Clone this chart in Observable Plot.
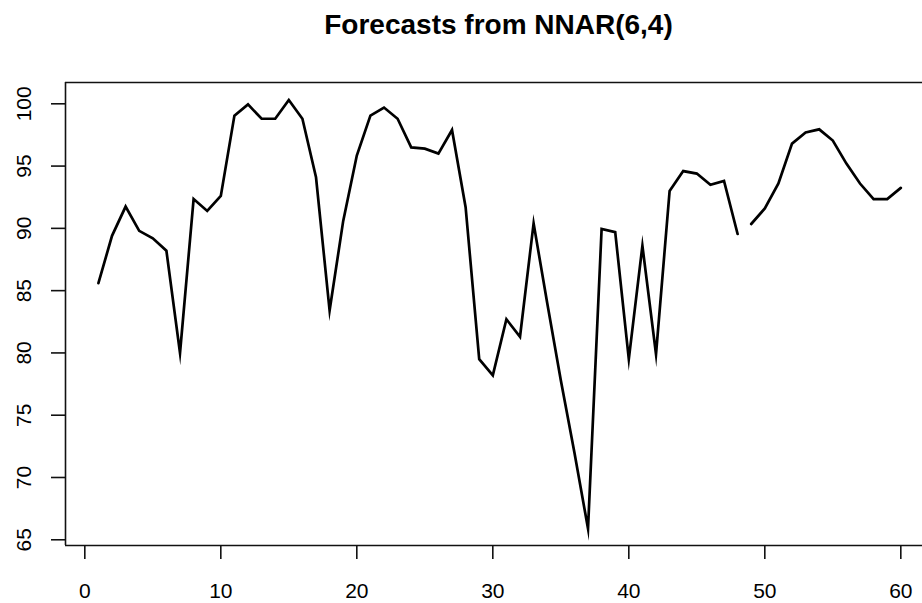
<!DOCTYPE html>
<html>
<head>
<meta charset="utf-8">
<script src="https://cdn.jsdelivr.net/npm/d3@7"></script>
<script src="https://cdn.jsdelivr.net/npm/@observablehq/plot@0.6"></script>
<style>
  html, body { margin: 0; padding: 0; background: #fff; }
  #wrap { width: 922px; height: 603px; overflow: hidden; position: relative; }
  #title { box-sizing: border-box; height: 44px; padding-top: 11px; padding-left: 75px; text-align: center;
           white-space: nowrap; font: bold 28px/28px "Liberation Sans", Arial, sans-serif; color: #000; }
</style>
</head>
<body>
<div id="wrap">
  <div id="title"></div>
  <div id="chart"></div>
</div>
<script>
const titleText = "Forecasts from NNAR(6,4)";
const observedTime = d3.range(1, 49);
const observedValues = [85.6, 89.4, 91.75, 89.8, 89.2, 88.2, 80.0, 92.35, 91.4, 92.6,
  99.05, 99.95, 98.8, 98.8, 100.3, 98.8, 94.1, 83.4, 90.6, 95.85,
  99.05, 99.7, 98.8, 96.5, 96.4, 96.0, 97.9, 91.7, 79.5, 78.2,
  82.7, 81.3, 90.4, 84.0, 77.8, 72.0, 65.9, 89.95, 89.7, 79.5,
  88.6, 79.9, 93.0, 94.6, 94.4, 93.5, 93.8, 89.55];
const forecastTime = d3.range(49, 61);
const forecastValues = [90.35, 91.6, 93.6, 96.8, 97.7, 97.95, 97.05, 95.2, 93.6, 92.35, 92.35, 93.25];
const xTicks = [0, 10, 20, 30, 40, 50, 60];
const yTicks = [65, 70, 75, 80, 85, 90, 95, 100];

document.getElementById("title").textContent = titleText;

const observed = observedTime.map((t, i) => ({t, v: observedValues[i]}));
const forecast = forecastTime.map((t, i) => ({t, v: forecastValues[i]}));

const xDomain = [-1.42, 62.33];
const yDomain = [64.54, 101.71];
const font = "Liberation Sans, Arial, sans-serif";

const chart = Plot.plot({
  width: 922,
  height: 559,
  marginTop: 38,
  marginBottom: 58,
  marginLeft: 65,
  marginRight: 0,
  style: {fontFamily: font, fontSize: "21px", color: "#000", background: "#fff", overflow: "visible"},
  x: {domain: xDomain, range: [65, 932]},
  y: {domain: yDomain},
  marks: [
    Plot.ruleY([yDomain[0], yDomain[1]], {x1: xDomain[0], x2: xDomain[1], stroke: "#111", strokeWidth: 1.6}),
    Plot.ruleX([xDomain[0]], {y1: yDomain[0], y2: yDomain[1], stroke: "#111", strokeWidth: 1.6}),
    Plot.ruleX([xDomain[1]], {y1: yDomain[0], y2: yDomain[1], stroke: "#111", strokeWidth: 1.6}),
    Plot.axisX({ticks: xTicks, tickSize: 14, tickPadding: 24, tickFormat: d => String(d),
      stroke: "#111", strokeWidth: 1.6, label: null, fontSize: 21, anchor: "bottom"}),
    Plot.axisY({ticks: yTicks, tickSize: 14, tickFormat: () => "", stroke: "#111", strokeWidth: 1.6, label: null, anchor: "left"}),
    Plot.text(yTicks, {y: d => d, text: d => String(d), frameAnchor: "left", dx: -41,
      rotate: -90, textAnchor: "middle", lineAnchor: "middle", fontSize: 21, fill: "#000"}),
    Plot.line(observed, {x: "t", y: "v", stroke: "#000", strokeWidth: 2.7, strokeLinejoin: "miter", strokeMiterlimit: 10}),
    Plot.line(forecast, {x: "t", y: "v", stroke: "#000", strokeWidth: 2.7, strokeLinejoin: "miter", strokeMiterlimit: 10})
  ]
});
document.getElementById("chart").appendChild(chart);
</script>
</body>
</html>
